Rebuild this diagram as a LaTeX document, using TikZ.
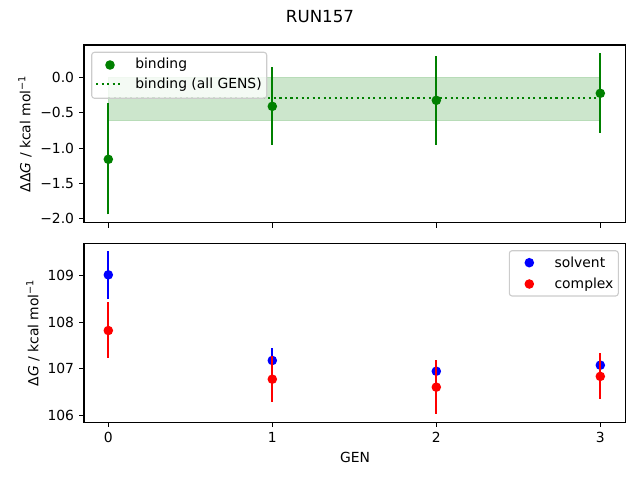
\documentclass[tikz,border=0pt]{standalone}
\usepackage{fontspec}
\setmainfont{DejaVu Sans}
\definecolor{mgreen}{HTML}{008000}
\definecolor{mblue}{HTML}{0000FF}
\definecolor{mred}{HTML}{FF0000}
\definecolor{legedge}{HTML}{CCCCCC}
\definecolor{bandfill}{HTML}{CCE6CC}
\definecolor{bandedge}{HTML}{B8DCB8}
\begin{document}
\begin{tikzpicture}[x=0.72pt,y=-0.72pt,
  declare function={gx(\g)=108.3+164*(\g); ty(\v)=77.3-70.8*(\v); by(\v)=415.7-46.8*((\v)-106);},
  spine/.style={draw=black,line width=0.8pt},
  tickmark/.style={line width=0.8pt},
  lbl/.style={font=\fontsize{10}{12}\selectfont,inner sep=0pt},
  ebar/.style={line width=1.5pt},
  dot/.style={circle,inner sep=0pt,minimum size=6.9pt},
  legbox/.style={draw=legedge,fill=white,fill opacity=0.8,rounded corners=2pt,line width=0.8pt},
]
\useasboundingbox (0,0) rectangle (640,480);

% title
\node[font=\fontsize{12}{14}\selectfont,inner sep=0pt,anchor=base] (title) at (320,22) {RUN157};

% ---------- top axes ----------
\fill[bandfill,draw=bandedge,line width=0.5pt] ({gx(0)},{ty(0)}) rectangle ({gx(3)},{ty(-0.61)});
\draw[mgreen,line width=1.5pt,dash pattern=on 1.5pt off 2.475pt] ({gx(0)},{ty(-0.29)}) -- ({gx(3)},{ty(-0.29)});
\foreach \g/\v/\lo/\hi in {0/-1.158/-1.935/-0.359, 1/-0.41/-0.952/0.14, 2/-0.325/-0.952/0.30, 3/-0.226/-0.782/0.343} {
  \draw[ebar,mgreen] ({gx(\g)},{ty(\lo)}) -- ({gx(\g)},{ty(\hi)});
  \node[dot,fill=mgreen] (bind\g) at ({gx(\g)},{ty(\v)}) {};
}
\draw[spine] (84,45) rectangle (625.7,222.7);
\foreach \g in {0,1,2,3} {
  \draw[tickmark] ({gx(\g)},222.7) -- ({gx(\g)},227.6);
}
\foreach \v/\t in {0/0.0, -0.5/−0.5, -1/−1.0, -1.5/−1.5, -2/−2.0} {
  \draw[tickmark] (84,{ty(\v)}) -- (79.1,{ty(\v)});
  \node[lbl,anchor=east] at (74.3,{ty(\v)}) {\t};
}
\node[lbl,rotate=90] (ylabtop) at (25,133.8) {ΔΔ\textit{G} / kcal mol\textsuperscript{−1}};

% top legend
\draw[legbox] (91.7,52.3) rectangle (266.7,98.3);
\node[dot,fill=mgreen] (legbind) at (110,65) {};
\node[lbl,anchor=base west] (legbindt) at (135,68.3) {binding};
\draw[mgreen,line width=1.5pt,dash pattern=on 1.5pt off 2.475pt] (96,84) -- (123,84);
\node[lbl,anchor=base west] (legallt) at (135,88) {binding (all GENS)};

% ---------- bottom axes ----------
\foreach \g/\v/\lo/\hi in {0/109.01/108.49/109.52, 1/107.18/106.92/107.45, 2/106.95/106.8/107.1, 3/107.08/106.9/107.25} {
  \draw[ebar,mblue] ({gx(\g)},{by(\lo)}) -- ({gx(\g)},{by(\hi)});
  \node[dot,fill=mblue] (solv\g) at ({gx(\g)},{by(\v)}) {};
}
\foreach \g/\v/\lo/\hi in {0/107.82/107.24/108.43, 1/106.78/106.3/107.27, 2/106.61/106.04/107.19, 3/106.84/106.36/107.33} {
  \draw[ebar,mred] ({gx(\g)},{by(\lo)}) -- ({gx(\g)},{by(\hi)});
  \node[dot,fill=mred] (cplx\g) at ({gx(\g)},{by(\v)}) {};
}
\draw[spine] (84,243.3) rectangle (625.7,422.3);
\foreach \g in {0,1,2,3} {
  \draw[tickmark] ({gx(\g)},422.3) -- ({gx(\g)},427.2);
  \node[lbl,anchor=base] at ({gx(\g)},442.3) {\g};
}
\foreach \v in {106,107,108,109} {
  \draw[tickmark] (84,{by(\v)}) -- (79.1,{by(\v)});
  \node[lbl,anchor=east] at (74.3,{by(\v)}) {\v};
}
\node[lbl,rotate=90] (ylabbot) at (33,332.8) {Δ\textit{G} / kcal mol\textsuperscript{−1}};
\node[lbl,anchor=base] (xlab) at (355,462.3) {GEN};

% bottom legend
\draw[legbox] (509.3,250.7) rectangle (618.3,296);
\node[dot,fill=mblue] (legsolv) at (529.3,262.7) {};
\node[lbl,anchor=base west] (legsolvt) at (554.3,267.3) {solvent};
\node[dot,fill=mred] (legcplx) at (529.3,284) {};
\node[lbl,anchor=base west] (legcplxt) at (554.3,288.5) {complex};
\end{tikzpicture}
\end{document}
